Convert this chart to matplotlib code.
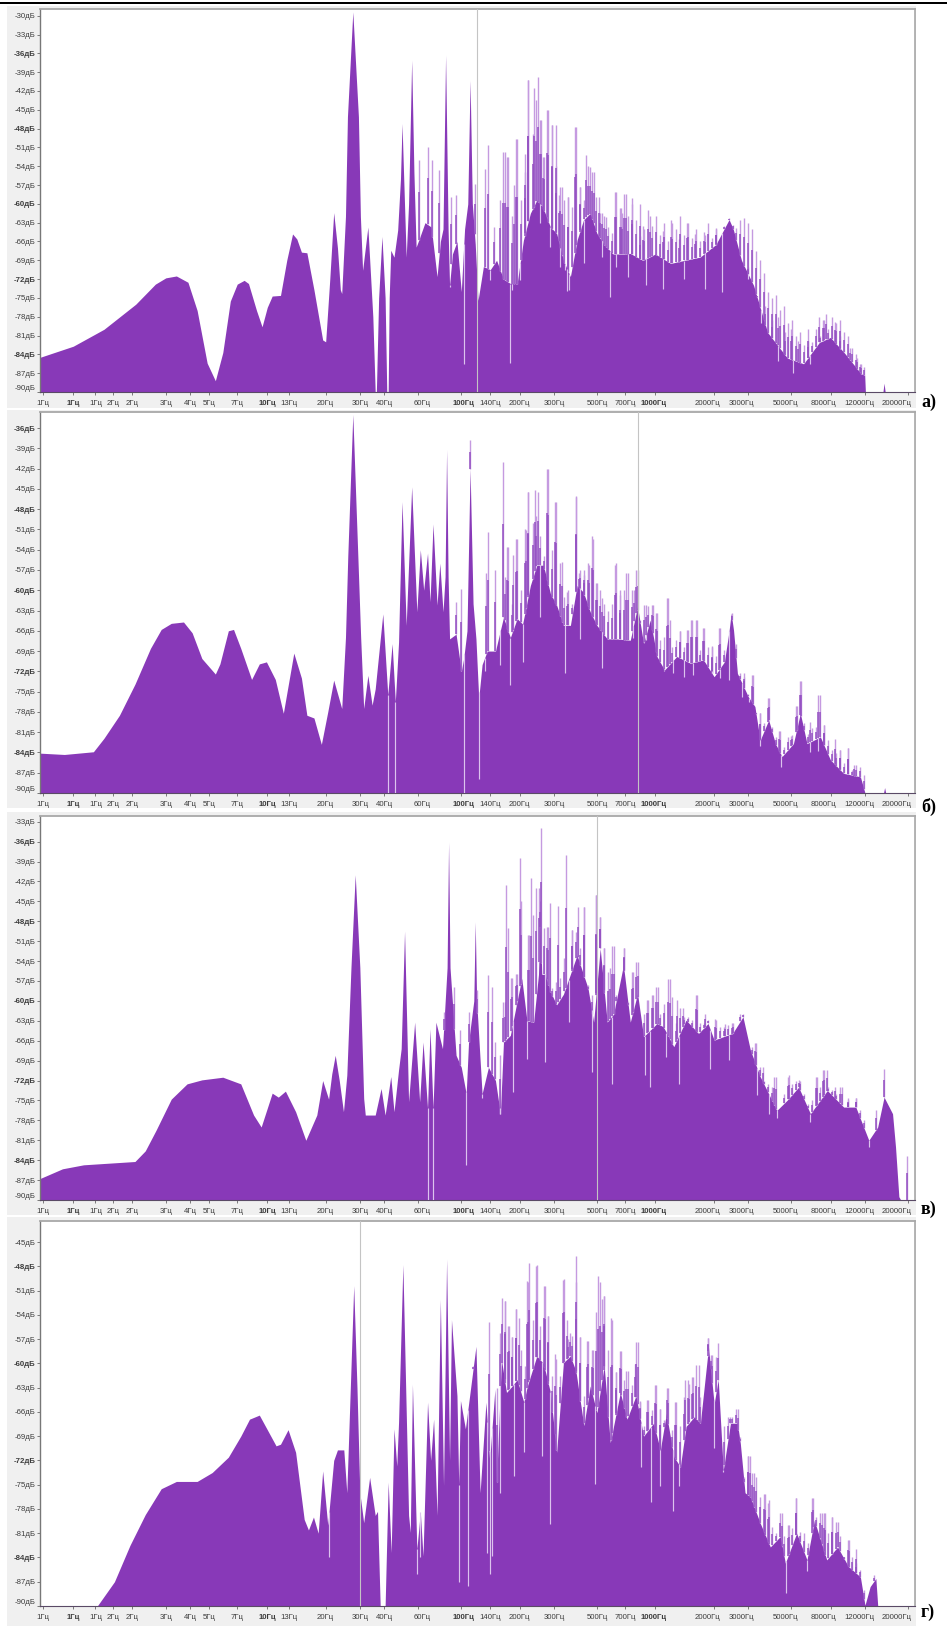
import numpy as np
import matplotlib
matplotlib.use("Agg")
import matplotlib.pyplot as plt
from matplotlib.patches import Rectangle
from matplotlib.transforms import ScaledTranslation

plt.rcParams['font.family'] = ['Liberation Sans', 'DejaVu Sans']

# X axis labels, same on all four spectra
tick_hz = [0.7, 1, 1.3, 1.6, 2, 3, 4, 5, 7, 10, 13, 20, 30, 40, 60, 100, 140, 200, 300, 500, 700,
           1000, 2000, 3000, 5000, 8000, 12000, 20000]
tick_text = ['1Гц', '1Гц', '1Гц', '2Гц', '2Гц', '3Гц', '4Гц', '5Гц', '7Гц', '10Гц', '13Гц', '20Гц', '30Гц',
             '40Гц', '60Гц', '100Гц', '140Гц', '200Гц', '300Гц', '500Гц', '700Гц', '1000Гц', '2000Гц',
             '3000Гц', '5000Гц', '8000Гц', '12000Гц', '20000Гц']
tick_bold = ['10Гц', '100Гц', '1000Гц']

# общие частоты для "бахромы" над огибающей
fuzz_hz = [159, 167, 175, 183, 192, 202, 212, 222, 233, 244,
           256, 268, 281, 295, 309, 324, 340, 356, 373, 391,
           410, 430, 451, 473, 496, 520, 545, 572, 600, 629,
           659, 691, 725, 760, 797, 836, 876, 919, 963, 1010,
           1059, 1110, 1164, 1221, 1280, 1342, 1407, 1476, 1547, 1622,
           1701, 1784, 1870, 1961, 2056, 2156, 2261, 2371, 2486, 2607,
           2733, 2866, 3005, 3151, 3304, 3465, 3633, 3810, 3995, 4189,
           4392, 4606, 4829, 5064, 5310, 5568, 5839, 6122, 6420, 6732,
           7059, 7402, 7761, 8139, 8534, 8949, 9384, 9840, 10318, 10819,
           11345, 11896]

# ---------- спектр а) ----------
env_hz_a = [0.67, 1.0, 1.44, 2.1, 2.65, 3.0, 3.4, 3.9, 4.35, 4.9, 5.4, 5.9, 6.45, 7.0, 7.6, 8.0, 8.8, 9.4, 10, 10.6,
            11.7, 12.6, 13.5, 14.2, 15, 16, 17.4, 19.3, 20, 21, 22, 23, 23.8, 24.2, 25.3, 25.9, 27.6, 29.5, 30.2,
            31, 33, 35, 36, 36.5, 37.5, 39, 40.5, 41.3, 42, 42.5, 43.3, 45, 47, 48.6, 49.5, 50.5, 52, 53.5, 55.5,
            57, 58.5, 60, 65, 70, 75, 78, 80.5, 83, 85.5, 87, 90, 95, 100, 104, 108, 111, 114, 118, 122, 130, 141,
            152, 165, 179, 194, 209, 227, 245, 263, 288, 310, 336, 365, 395, 426, 462, 500, 545, 606, 685, 743,
            860, 1000, 1200, 1420, 1700, 2050, 2400, 2520, 2780, 3210, 3790, 4800, 5810, 7000, 7990, 9450, 11500,
            12000, 12100, 14900, 15100, 15300]
env_db_a = [-84.5, -82.7, -80, -76, -72.8, -71.8, -71.5, -72.5, -77, -85.4, -88.2, -83.7, -75.5, -72.8, -72.2, -72.7,
            -77, -79.6, -76.5, -74.7, -74.6, -69, -64.8, -65.6, -67.7, -67.8, -73.7, -81.7, -82, -72, -61.4, -67,
            -73.7, -74.3, -62, -46.1, -29.4, -46.1, -62, -70.6, -63.7, -78, -90, -90, -75, -65.2, -75, -90, -90, -75,
            -67.4, -68.5, -64.2, -56, -47.2, -56, -68.5, -60, -37.1, -55, -66.9, -66, -63, -63.7, -71.6, -66, -64,
            -36.3, -64, -73, -68, -66, -74, -64, -60, -40.3, -60, -66.4, -75.4, -70, -70.5, -69, -72, -72.7, -72.7,
            -65.8, -61.5, -59.4, -60.5, -63.7, -64.7, -69, -71.6, -65.8, -62.6, -61.5, -64.7, -66.5, -68, -68, -67.9,
            -69, -68, -69.5, -69, -68.5, -66.5, -62.5, -64, -69, -73, -80.5, -84.6, -85.5, -82.1, -81.3, -83.8, -87.1,
            -87.3, -90, -90, -88.6, -90]
spike_hz_a = [60.5, 67, 71, 77, 89, 94, 117, 132, 138, 147, 165, 172, 187, 194, 214, 222, 236, 249, 257, 265, 275, 292,
              306, 317, 331, 355, 384, 408, 440, 458, 481, 510, 531, 560, 620, 665, 675, 710, 760, 830, 860, 940, 1100,
              1210, 1320, 1450, 1610, 1800, 2050, 2300, 2400, 2520, 2780, 3000, 3340, 3690, 4000, 4270, 4660, 5000,
              5430, 6100, 7000, 7300, 7600, 8400, 9000, 10100, 11000, 11500]
spike_db_a = [-53, -50.9, -53, -54.6, -58.9, -58.6, -56.8, -54.4, -50.6, -63.7, -51.7, -52.5, -57, -49.6, -52, -40.3,
              -41.6, -39.8, -46.6, -52.5, -45, -47.4, -47.4, -58.6, -57.3, -58.9, -47.7, -57.3, -52.2, -54.1, -54.9,
              -58.9, -61.5, -62.1, -58.1, -60.7, -61.4, -58.4, -60, -65.2, -63.6, -62, -64.3, -62.5, -65.6, -63, -64.8,
              -65, -63.9, -63.5, -62.3, -63.3, -68.9, -70, -74.7, -76.3, -78.5, -78, -80.5, -80, -81.8, -80, -78, -78.5,
              -77.5, -78.8, -81, -83, -84.5, -85.5]
fuzz_db_a = [-59.4, -51.7, -52.5, -62, -49.6, -59.4, -55, -40.3, -48.8, -43.5,
             -46.6, -52.5, -45, -47.4, -54, -57.3, -59.4, -58.9, -60.5, -47.7,
             -57.3, -59.4, -54, -54.9, -58.9, -61.5, -62, -63.7, -64.7, -58.1,
             -60.7, -58.4, -62, -59, -62.5, -60, -64, -61, -63.5, -62,
             -65, -63, -66, -63, -64, -62, -65, -63, -65.5, -64,
             -66, -64.5, -63, -65.5, -64, -66, -63.5, -65, -64, -63.8,
             -62.5, -62.3, -63, -64, -67.5, -69, -71, -74, -75, -74.5,
             -77, -76.3, -79, -78.5, -81, -80.5, -82.5, -81.8, -82, -80,
             -81, -78.5, -80, -78, -79, -78.5, -80.5, -81, -83, -84,
             -85.5, -86]
notch_hz_a = [58.5, 75, 87, 103, 122, 141, 179, 183, 201, 255, 288, 324, 342, 351, 360, 428, 531, 586, 630, 724, 900,
              1100, 1400, 1800, 2200, 3000, 3500, 4300, 5100, 6300]
notch_db_a = [-66.9, -71.6, -73.2, -85.6, -75.4, -72.2, -85.4, -73.8, -72.2, -63.1, -66.9, -70, -70.6, -73.9, -73.8,
              -69.5, -68.5, -74.8, -70, -71.6, -73, -73.5, -72, -73.5, -74, -72, -79, -85, -87, -85.5]
cursor_a = 120

# ---------- спектр б) ----------
env_hz_b = [0.67, 0.9, 1.27, 1.44, 1.73, 2.08, 2.5, 2.84, 3.2, 3.7, 4.1, 4.6, 5.4, 5.7, 6.3, 6.7, 7.3, 8.3, 9.1, 9.9,
            11, 12.1, 13.7, 15, 16, 17.4, 19, 20.5, 22, 24.2, 25.3, 26, 27.6, 29.3, 30.3, 31.4, 33, 34.7, 36, 39.4,
            41.8, 44, 45.7, 47.5, 49.5, 52, 55.5, 59, 61.5, 64, 67, 69, 71.5, 75, 77.5, 80.5, 82.5, 84, 85.5, 87, 94,
            100, 103, 107, 111, 115, 119, 123, 128, 136, 150, 165, 179, 194, 207, 227, 245, 265, 288, 310, 336, 365,
            395, 426, 462, 500, 565, 630, 743, 810, 870, 942, 1020, 1115, 1290, 1515, 1770, 2010, 2270, 2400, 2460,
            2530, 2650, 3020, 3260, 3470, 3840, 4160, 4500, 5150, 5590, 6050, 7090, 7990, 9350, 11400, 12040, 15000,
            15200, 15400]
env_db_b = [-84.1, -84.3, -83.9, -81.9, -78.5, -73.9, -68.6, -65.8, -64.9, -64.7, -66.3, -70.1, -72.4, -70.9, -66,
            -65.8, -68.6, -73.2, -70.9, -70.6, -73.2, -78.2, -69.3, -73, -78.5, -78.9, -82.8, -78, -73.3, -77.5, -67,
            -55, -34, -55, -67, -77.5, -72.6, -77, -74.6, -63.5, -75.5, -67.9, -76.5, -67.7, -46.9, -65.2, -44.7,
            -63.2, -54, -60, -54.5, -61.7, -50.2, -62.2, -56, -63.2, -58, -39.2, -58, -67.2, -66.5, -72, -70, -66,
            -42, -62, -67.2, -76, -71, -69, -69, -64, -67, -64.2, -65, -59.3, -56.3, -56.3, -60.5, -62.2, -65.2, -65.2,
            -59.3, -60.3, -63.2, -65.2, -67.2, -67.2, -67.4, -62.4, -67.9, -64.4, -69.8, -71.8, -69.8, -70.8, -70.3,
            -72.8, -70.6, -66, -63.4, -65.9, -72.3, -75.8, -77.2, -82.2, -79.2, -82.7, -84.6, -82.7, -78.2, -82.7,
            -81.7, -85.1, -87.1, -87.6, -90, -90, -89.2, -90]
spike_hz_b = [94, 100, 111, 134, 138, 149, 165, 173, 185, 194, 215, 221, 240, 248, 277, 305, 331, 350, 390, 405, 430,
              456, 475, 500, 531, 620, 660, 710, 780, 815, 895, 970, 1020, 1150, 1190, 1345, 1450, 1530, 1640, 1770,
              1950, 2125, 2460, 2870, 3200, 3478, 3840, 4340, 5000, 5350, 5630, 6300, 6900, 7400, 8400, 8900, 9880,
              10600]
spike_db_b = [-61.7, -59.8, -37.8, -57.5, -51.4, -57, -41, -53.6, -54.8, -52.4, -51.1, -45.4, -45.2, -45.4, -42, -46.9,
              -55.8, -60.3, -46.2, -57.5, -57.8, -56.3, -52.4, -59, -61.2, -56.3, -60.7, -57.5, -60, -57, -62.2, -62.2,
              -63.4, -61.2, -64.4, -66.1, -65.9, -64.4, -64.4, -65.6, -68.3, -65.6, -63.4, -72.3, -72.5, -78.2, -76,
              -80.9, -81.5, -77.2, -73.5, -79.5, -75.5, -79.9, -82, -83.6, -83.4, -85.8]
fuzz_db_b = [-66, -58, -53.6, -62, -52.4, -60, -51, -45.4, -50, -49,
             -52, -55, -42, -54, -47, -56, -61, -60, -62, -46,
             -57, -57, -56, -52, -59, -60, -62, -63, -62, -56,
             -60, -60, -57.5, -60, -57, -64.4, -62.2, -62.4, -62.2, -63.4,
             -67.4, -66.9, -61.2, -68.4, -67.4, -66.1, -68.4, -65.9, -64.4, -64.4,
             -68.9, -65.6, -68.4, -68.4, -69.8, -65.6, -68.9, -69.3, -63.4, -67.9,
             -72.3, -72.8, -75.3, -72.5, -78.2, -78.2, -79.7, -76, -80.2, -81.7,
             -80.9, -83.2, -81.7, -81.4, -77.2, -73.5, -79.7, -81.2, -80.4, -80.2,
             -75.5, -79.9, -82.2, -83.6, -84.1, -83.6, -85.6, -83.4, -86.6, -85.9,
             -86.1, -87.3]
notch_hz_b = [41.8, 45.7, 103.5, 124, 132, 159, 179, 207, 255, 342, 408, 531, 770, 895, 1115, 1240, 1400, 1560, 1950,
              2150, 2400, 2800, 3050, 3470, 4450, 6300, 6900]
notch_db_b = [-90, -90, -90, -88, -72, -71, -74, -70.6, -64, -72.3, -67.2, -71.5, -67, -67.4, -72, -72.3, -72.8, -72.5,
              -72, -73, -73.3, -75.8, -76.5, -83.1, -86.1, -84, -83.8]
cursor_b = 815

# ---------- спектр в) ----------
env_hz_c = [0.67, 0.88, 1.13, 1.44, 2.08, 2.35, 2.67, 3.2, 3.86, 4.6, 5.9, 7.3, 8.5, 9.3, 10.6, 11.4, 12.4, 14, 15.8,
            18, 19.3, 20.7, 21.5, 22.4, 23.5, 24.7, 25.7, 27, 28.4, 30, 31.4, 32, 36, 38.6, 40.5, 43.3, 45, 47.5, 49,
            51, 53.5, 57.5, 61, 63.5, 67, 69, 71.5, 74, 80, 84.5, 86, 87.5, 94, 100, 106, 109, 116, 118, 120, 128, 138,
            150, 159, 165, 179, 194, 205, 218, 236, 250, 255, 260, 270, 288, 310, 336, 395, 450, 481, 520, 565, 609,
            685, 743, 810, 870, 1020, 1100, 1245, 1440, 1670, 1870, 2010, 2500, 2830, 3090, 3470, 3840, 4230, 4770,
            5480, 6300, 7700, 9350, 10800, 12600, 14000, 15100, 16700, 17300, 18000, 18400, 19600, 19800, 20000]
env_db_c = [-86.8, -85.3, -84.7, -84.5, -84.2, -82.6, -79.5, -74.8, -72.5, -71.9, -71.5, -72.5, -77.2, -79, -73.9,
            -74.5, -73.6, -76.7, -81, -77.2, -72, -74.8, -71, -68.2, -72, -76.7, -71.2, -55, -41, -55, -74.7, -77.2,
            -77.2, -73.2, -77.2, -71.4, -76.7, -70.4, -67.2, -49.5, -75.2, -63.2, -75.2, -66.2, -76.2, -64.2, -76.2,
            -63.2, -67.2, -55, -36.1, -55, -68.2, -70, -74, -66.2, -60, -48.1, -60, -74, -70, -72, -77, -66.2, -65.2,
            -60, -56.6, -63, -63.2, -56, -47.1, -56, -56, -58.6, -60.6, -59, -53.1, -58.1, -63.2, -52.1, -63.2, -62,
            -54.6, -63.2, -58.9, -65.4, -63.4, -63.9, -66.9, -62.9, -64.9, -63.4, -65.9, -64.9, -62.4, -67.4, -71.4,
            -74, -76.5, -75, -73, -77, -73.5, -76, -76, -81, -79, -74.5, -77, -82, -89.5, -90, -90, -90, -90]
spike_hz_c = [81, 92, 99, 109, 121, 138, 144, 149, 165, 171, 181, 194, 201, 223, 230, 251, 259, 275, 288, 316, 345, 370,
              398, 430, 495, 520, 547, 582, 609, 690, 765, 815, 910, 970, 1030, 1190, 1300, 1390, 1640, 1800, 2020, 2300,
              2500, 2830, 3280, 3600, 4110, 4860, 5480, 6800, 7300, 7650, 8400, 9150, 9800, 10800, 13700, 15100, 19800]
spike_db_c = [-61.6, -57.9, -64.4, -61.6, -58.4, -56.1, -57.9, -66.2, -60.1, -42.5, -56.6, -55.9, -38.4, -50.1, -41.5,
              -43, -34, -48.8, -45.2, -45.7, -38, -49.3, -45.8, -45.8, -44.1, -47.3, -52.1, -55.1, -51.8, -52.1, -55.6,
              -54.1, -59.9, -59.1, -57.9, -56.7, -59.9, -61.1, -59.1, -62, -62.7, -63.5, -63.3, -61.9, -66.4, -69.9,
              -71.4, -71.2, -71.9, -71.4, -70.4, -70.4, -73, -73, -74.7, -74.7, -76.5, -70.2, -83.3]
fuzz_db_c = [-68.2, -60.1, -49, -56.6, -55.9, -45, -64.2, -50.1, -47, -43,
             -45, -49, -48.8, -58.1, -57.1, -56.6, -53.6, -57.1, -49.3, -49.6,
             -52.1, -45.8, -57.6, -59.1, -44.1, -47.3, -52.1, -55.6, -51.8, -59.1,
             -59.6, -52.1, -60.1, -55.6, -54.1, -63.4, -61.9, -59.9, -59.1, -57.9,
             -61.9, -60.4, -56.7, -59.4, -63.4, -61.1, -62.4, -62.4, -62.9, -59.1,
             -63.4, -63.4, -62.9, -65.4, -62.9, -63.9, -63.9, -63.7, -63.4, -65.4,
             -61.9, -65.4, -65.9, -66.9, -66.4, -69.9, -72, -72.5, -73, -71.4,
             -76, -74, -71.4, -72.5, -72, -72, -74, -75.5, -75, -71.4,
             -73, -70.4, -73, -73.5, -74, -73, -76, -75, -76, -74.7,
             -76.5, -78]
notch_hz_c = [67, 71.5, 105.5, 128, 159, 185, 218, 270, 357, 470, 595, 880, 935, 1140, 1320, 1921, 2400, 3340, 3840,
              4230, 6297, 12600]
notch_db_c = [-90, -90, -84.8, -74.7, -76.2, -73.7, -68.7, -69.2, -63.2, -70.7, -72.5, -71.2, -73, -68.4, -72.5, -70.2,
              -68.9, -74.2, -77, -77.7, -78.2, -82]
cursor_c = 500

# ---------- спектр г) ----------
env_hz_d = [1.33, 1.63, 1.96, 2.35, 2.84, 3.4, 4.35, 5.2, 6.3, 7.3, 8.1, 9.1, 10, 11.1, 11.7, 12.8, 14, 15.5, 16.3, 17.3,
            18.3, 19.3, 20.5, 22, 23, 23.8, 24.8, 25.7, 26.8, 27.9, 29, 30, 31.4, 33.7, 36, 37, 38.2, 39, 40.5, 42, 43.5,
            45, 46.5, 47.5, 50, 53.5, 54.6, 56, 59, 61.5, 63.5, 67, 69.5, 72, 75, 78, 81, 84, 87, 89, 95, 97, 99, 105,
            119, 125, 134, 140, 149, 152, 161, 171, 183, 194, 210, 219, 245, 265, 288, 310, 336, 365, 390, 428, 462, 500,
            545, 586, 660, 715, 795, 870, 980, 1061, 1140, 1245, 1345, 1440, 1590, 1706, 1880, 2010, 2110, 2240, 2440,
            2650, 2743, 2900, 3089, 3478, 3916, 4410, 4680, 5350, 6050, 6600, 7650, 8700, 9880, 11400, 12040, 12800,
            13700, 14000]
env_db_d = [-90, -87, -82.5, -78.7, -75.5, -74.6, -74.6, -73.5, -71.6, -69, -66.9, -66.4, -68.2, -70.2, -70, -68.2, -71,
            -79.3, -80.6, -79, -81, -73.3, -80, -72, -70.7, -70.7, -70.7, -76, -63, -50.4, -63, -76, -79.7, -74.1, -78.8,
            -78.3, -90, -90, -90, -74.7, -83.4, -68.1, -72.7, -67.3, -47.8, -78.8, -80.9, -62.6, -83, -78.4, -83.8, -64.8,
            -72, -66.9, -78.8, -52.1, -75.1, -47.1, -72, -54.6, -64, -75, -64.6, -68.1, -57.9, -76, -64.8, -72, -63.2,
            -74.7, -59.5, -63.6, -62.8, -62, -64.8, -62.8, -59.1, -60, -63.6, -71, -59.9, -59.1, -61, -67.7, -62.8, -66.1,
            -60.3, -69.8, -63.6, -66.9, -64, -69, -67.4, -70.7, -66.2, -71.5, -72.8, -67.8, -66.6, -67.4, -58, -65, -62,
            -73.2, -67.4, -67.4, -69.9, -76, -76.5, -79.8, -82.7, -81.4, -84.7, -81, -84.3, -79.4, -84.3, -82.7, -85.1,
            -86.4, -89.9, -87.6, -86.6, -89.9]
spike_hz_d = [115, 134, 139, 152, 162, 168, 177, 183, 191, 198, 218, 224, 247, 270, 279, 303, 336, 350, 365, 390, 410,
              445, 475, 505, 531, 547, 590, 625, 665, 710, 790, 810, 837, 910, 1000, 1061, 1150, 1260, 1430, 1500, 1570,
              1670, 1860, 1930, 2110, 2440, 2680, 3020, 3089, 3230, 3680, 3850, 4500, 4870, 5300, 6500, 7200, 7500, 8150,
              8700, 10000, 10800, 13400]
spike_db_d = [-60.3, -64.8, -54.9, -63, -51.9, -52.3, -55.4, -56.8, -53.3, -54.4, -49.8, -47.6, -47.9, -50.4, -54.1,
              -58.9, -49.7, -54.6, -56.2, -46.7, -56.8, -57.2, -58.3, -49.2, -52.1, -51.7, -54.4, -61.1, -58.5, -60.9,
              -60.1, -57.4, -64.6, -64.5, -62.7, -65.6, -63.1, -64.8, -62.1, -62.5, -61.7, -60.2, -56.9, -59, -57.5,
              -66.6, -65.7, -71.5, -71.5, -73.6, -76.1, -76.9, -78.5, -80, -76.7, -76.7, -78.5, -78.5, -79, -79.6, -81.8,
              -83, -86.2]
fuzz_db_d = [-56.2, -52.3, -55.4, -56.8, -53.3, -58.3, -60.3, -50, -54.6, -48,
             -55.4, -50.4, -54.1, -61.6, -59.5, -61.6, -49.6, -57, -56.6, -50,
             -56.8, -64, -57.2, -58.3, -53.7, -50, -51.7, -58.3, -54.6, -61.1,
             -58.5, -62, -60.9, -62.7, -57.3, -64.8, -67.8, -64.5, -65.8, -62.7,
             -65.6, -67, -63.1, -68.3, -64.8, -67.8, -64.1, -62.1, -61.7, -60.2,
             -64.1, -63.3, -56.9, -59, -59.2, -67.4, -67.8, -66.6, -66.6, -65.7,
             -69.1, -74, -71.5, -73.6, -74, -76.5, -76.1, -77.3, -80.2, -81,
             -78.5, -81.4, -80, -80.4, -76.7, -80.8, -81, -82.2, -76.7, -79,
             -78.5, -78.5, -81, -79, -79.6, -81.4, -83.9, -81.8, -83.9, -84.7,
             -85.5, -88]
notch_hz_d = [20.8, 59, 61.5, 81, 97, 108, 136, 141, 144, 159, 187, 210, 262, 288, 490, 845, 950, 1061, 1230, 1320, 2000,
              2240, 4720, 6050]
notch_db_d = [-84, -86, -84, -75.1, -87, -87.5, -83.4, -86, -83.8, -76, -73.9, -71, -71.4, -79.9, -74.9, -72.8, -77.1,
              -75.2, -78.3, -75.2, -70.5, -73.4, -88.4, -85.7]
cursor_d = 30

W, H = 947, 1627
PURPLE = '#8839b8'
LILAC = '#c59ae0'
NOTCH = '#dcc3ee'
TEXT = '#3c3c3c'

fig = plt.figure(figsize=(W / 100, H / 100), dpi=100, facecolor='white')


def box(x0, y0, x1, y1, color):
    # прямоугольник в пикселях картинки, y сверху вниз
    fig.add_artist(Rectangle((x0 / W, 1 - y1 / H), (x1 - x0) / W, (y1 - y0) / H, transform=fig.transFigure,
                             facecolor=color, edgecolor='none', zorder=-1))


def panel(top, bottom, ytop, env_hz, env_db, spike_hz, spike_db, fuzz_db, notch_hz, notch_db, cursor, first_db, tag,
          tag_y, grey_top, grey_bottom):
    box(7, grey_top, 916, grey_bottom, '#f0f0f0')
    ax = fig.add_axes([39.5 / W, 1 - bottom / H, (915 - 39.5) / W, (bottom - top) / H], facecolor='white')
    ax.set_xscale('log')
    ax.set_xlim(0.67, 21800)
    ax.set_ylim(-90, ytop)

    ax.fill_between(env_hz, env_db, -90, color=PURPLE, linewidth=0, zorder=2)

    # тонкие выбросы: светлый верх, тёмный низ
    hz = np.array(list(spike_hz) + fuzz_hz)
    peak = np.array(list(spike_db) + fuzz_db)
    base = np.interp(np.log10(hz), np.log10(env_hz), env_db)
    up = peak > base
    ax.vlines(hz[up], base[up], peak[up], color=LILAC, linewidth=1.0, zorder=3)
    ax.vlines(hz[up], base[up], (peak - 0.4 * (peak - base))[up], color='#9450c2', linewidth=1.1, zorder=4)

    # светлые провалы вниз от огибающей
    nbase = np.interp(np.log10(notch_hz), np.log10(env_hz), env_db)
    ax.vlines(notch_hz, notch_db, nbase, color=NOTCH, linewidth=0.85, zorder=4)

    ax.axvline(cursor, color='#c4c4c4', linewidth=0.8, zorder=5)

    levels = list(range(first_db, -91, -3))
    ax.set_yticks(levels)
    ax.set_yticklabels([f'{v}дБ' for v in levels])
    ax.set_xticks(tick_hz)
    ax.set_xticklabels(tick_text)
    ax.minorticks_off()
    ax.tick_params(axis='y', length=2, width=0.6, color='#666666', pad=1, labelsize=5.6, labelcolor=TEXT)
    ax.tick_params(axis='x', length=2, width=0.6, color='#666666', pad=3.5, labelsize=5.6, labelcolor=TEXT)

    for v, lab in zip(levels, ax.get_yticklabels()):
        if v % 12 == 0:
            lab.set_fontweight('bold')
        if v == -90:
            lab.set_va('bottom')
    # подписи справа сдвинуты влево от своих рисок
    shifts = [0] * 14 + [4, 2] + [0] * 5 + [-2, -6, -6, -5, -7, -5, -11]
    for dx, text, lab in zip(shifts, tick_text, ax.get_xticklabels()):
        if text in tick_bold:
            lab.set_fontweight('bold')
        lab.set_transform(lab.get_transform() + ScaledTranslation(dx / 100, 0, fig.dpi_scale_trans))
    ax.get_xticklabels()[1].set_fontweight('bold')

    for side, col, lw in [('left', '#777777', 1.0), ('top', '#a8a8a8', 1.3), ('right', '#a0a0a0', 1.1),
                          ('bottom', '#5a4a66', 0.8)]:
        ax.spines[side].set_color(col)
        ax.spines[side].set_linewidth(lw)

    fig.text(921 / W, 1 - tag_y / H, tag, family=['Liberation Serif', 'DejaVu Serif'], fontsize=13,
             fontweight='bold', va='center', ha='left', color='black')
    return ax


box(0, 2, W, 4.3, 'black')

panel(9, 392, -28.93, env_hz_a, env_db_a, spike_hz_a, spike_db_a, fuzz_db_a, notch_hz_a, notch_db_a, cursor_a, -30,
      'а)', 402, 6, 408)
panel(412, 793, -33.63, env_hz_b, env_db_b, spike_hz_b, spike_db_b, fuzz_db_b, notch_hz_b, notch_db_b, cursor_b, -36,
      'б)', 807, 410, 808)
panel(816, 1200, -32.14, env_hz_c, env_db_c, spike_hz_c, spike_db_c, fuzz_db_c, notch_hz_c, notch_db_c, cursor_c, -33,
      'в)', 1209, 812, 1215)
panel(1221, 1606, -42.4, env_hz_d, env_db_d, spike_hz_d, spike_db_d, fuzz_db_d, notch_hz_d, notch_db_d, cursor_d, -45,
      'г)', 1612, 1217, 1626)

fig.savefig('out.png', dpi=100)
